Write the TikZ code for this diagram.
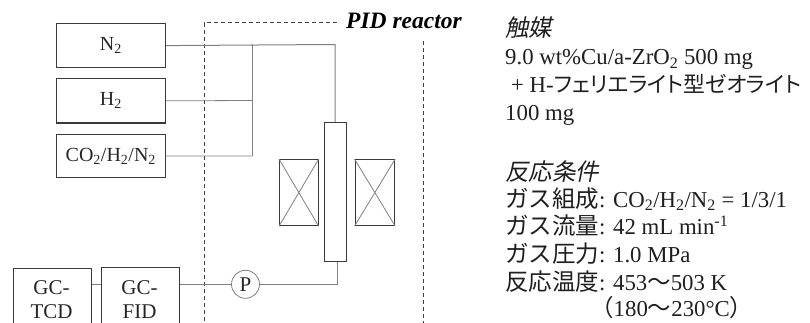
\documentclass[tikz,border=0pt]{standalone}
\usepackage{fontspec}
\setmainfont{Liberation Serif}
\newfontfamily\cjk[AutoFakeSlant=0.2]{Noto Sans CJK JP}
\newfontfamily\kana[RawFeature=+palt]{Noto Sans CJK JP}
\usetikzlibrary{calc}
\definecolor{boxc}{HTML}{3A3A3A}
\definecolor{linec}{HTML}{808080}
\tikzset{
  unitbox/.style={draw=boxc,line width=1.2pt,inner sep=0pt,anchor=north west,align=center,font=\fontsize{20}{27}\selectfont,text=black!85},
  plainbox/.style={draw=boxc,line width=1.2pt,inner sep=0pt,anchor=north west},
  gclabel/.style={anchor=base,inner sep=0pt,font=\fontsize{21}{24}\selectfont,text=black!85},
  pipe/.style={draw=linec,line width=1pt},
  thinpipe/.style={draw=linec,line width=0.8pt},
  frameline/.style={draw=black!75,line width=1pt,dash pattern=on 4pt off 3pt},
  info/.style={anchor=base west,inner sep=0pt,font=\fontsize{22.8}{26}\selectfont,text=black!88},
  cross/.style={draw=linec,line width=0.8pt}
}
\newcommand{\jp}[1]{{\cjk\fontsize{23.5}{26}\selectfont #1}}
\begin{document}
\begin{tikzpicture}[x=1pt,y=-1pt]
\useasboundingbox (0,0) rectangle (810,323);
\clip (0,0) rectangle (810,323);
% reactor frame
\coordinate (ftl) at (204,23);
\coordinate (ftr) at (337,23);
\coordinate (fbl) at (204,323);
\coordinate (frt) at (423,41);
\coordinate (frb) at (423,323);
\draw[frameline] (ftr) -- (ftl) -- (fbl);
\draw[frameline] (frt) -- (frb);
\node[anchor=base west,inner sep=0pt,font=\fontsize{23.5}{26}\selectfont\bfseries\itshape] (pid) at (346,29) {PID reactor};
% gas supply boxes
\node[unitbox,minimum width=109.5pt,minimum height=44pt] (n2) at (55.5,23) {N\textsubscript{2}};
\node[unitbox,minimum width=109.5pt,minimum height=44.5pt] (h2) at (55.5,78) {H\textsubscript{2}};
\node[unitbox,minimum width=109.5pt,minimum height=43pt] (mix) at (55.5,134) {CO\textsubscript{2}/H\textsubscript{2}/N\textsubscript{2}};
% reactor tube and heaters
\node[plainbox,minimum width=21.5pt,minimum height=139pt] (tube) at (324,122) {};
\node[plainbox,minimum width=38.5pt,minimum height=66pt] (hl) at (279,159) {};
\node[plainbox,minimum width=39.5pt,minimum height=66pt] (hr) at (354.5,159) {};
\draw[cross] (hl.north west) -- (hl.south east) (hl.north east) -- (hl.south west);
\draw[cross] (hr.north west) -- (hr.south east) (hr.north east) -- (hr.south west);
% GC boxes
\node[plainbox,minimum width=78pt,minimum height=70pt] (tcd) at (12.5,267.5) {};
\node[plainbox,minimum width=77.5pt,minimum height=70pt] (fid) at (101,267) {};
\node[gclabel] (tcdt1) at (51.5,294) {GC-};
\node[gclabel] (tcdt2) at (51.5,318) {TCD};
\node[gclabel] (fidt1) at (139.5,294) {GC-};
\node[gclabel] (fidt2) at (139.5,318) {FID};
\node[circle,draw=linec,line width=0.8pt,minimum size=28pt,inner sep=0pt,font=\fontsize{21}{24}\selectfont,text=black!85] (p) at (245.5,284.3) {P};
% connectors
\coordinate (j1) at (252,44.5);
\coordinate (j2) at (252,100.5);
\coordinate (j3) at (252,156);
\coordinate (bend) at (335,44.5);
\coordinate (tin) at (335,122);
\coordinate (tout) at (337,261);
\coordinate (pbend) at (337,284.3);
\draw[pipe] (n2.east) -- (bend) -- (tin);
\draw[pipe] (j1) -- (j3);
\draw[thinpipe] (h2.east) -- (j2);
\draw[thinpipe] (mix.east) -- (j3);
\draw[thinpipe] (tube.south -| tout) -- (pbend) -- (p.east);
\draw[thinpipe] (p.west) -- (p.west -| fid.east);
\draw[thinpipe] (p.west -| fid.west) -- (p.west -| tcd.east);
% conditions
\node[info] (t1) at (505,37) {\jp{\itshape 触媒}};
\node[info] (t2) at (505,65) {9.0 wt\%Cu/a-ZrO\textsubscript{2} 500 mg};
\node[info] (t3) at (511,93) {+ H-{\kana\fontsize{21.8}{26}\selectfont フェリエライト型ゼオライト}};
\node[info] (t4) at (505,121) {100 mg};
\node[info] (t5) at (505,180) {\jp{\itshape 反応条件}};
\node[info] (t6) at (505,207) {\jp{ガス組成}: CO\textsubscript{2}/H\textsubscript{2}/N\textsubscript{2} = 1/3/1};
\node[info] (t7) at (505,234) {\jp{ガス流量}: 42 mL min\textsuperscript{-1}};
\node[info] (t8) at (505,262) {\jp{ガス圧力}: 1.0 MPa};
\node[info] (t9) at (505,290) {\jp{反応温度}: 453\jp{～}503 K};
\node[info] (t10) at (590,316) {\jp{（}180\jp{～}230°C\jp{）}};
\end{tikzpicture}
\end{document}
